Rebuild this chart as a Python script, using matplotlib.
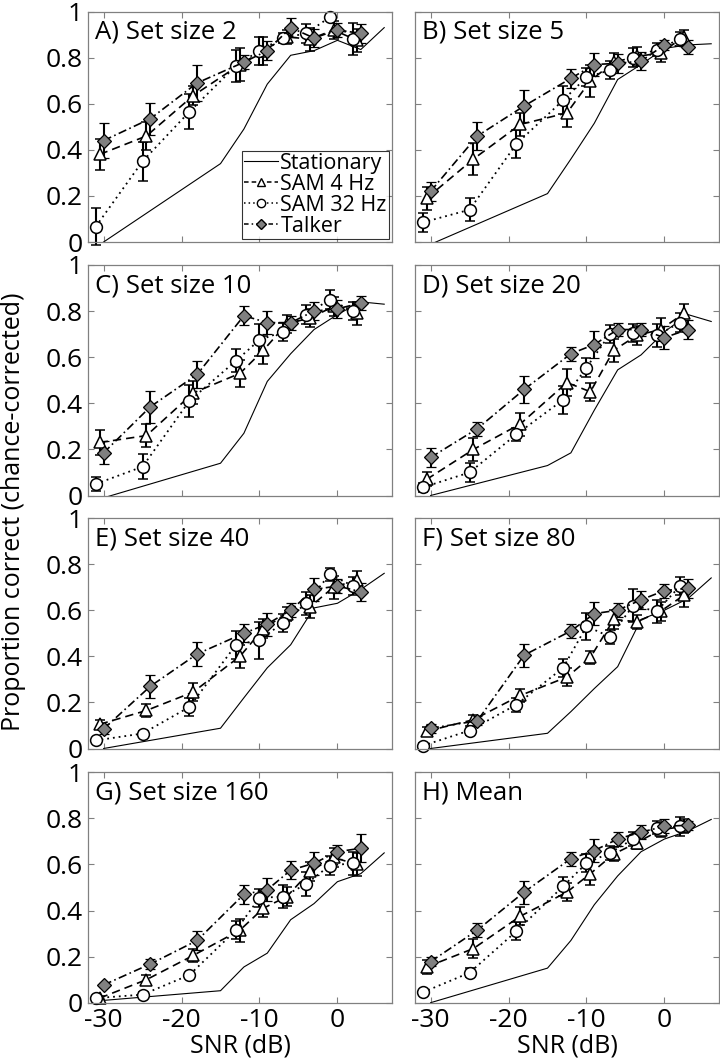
import numpy as np
import matplotlib
matplotlib.use('Agg')
import matplotlib.pyplot as plt
from matplotlib.lines import Line2D

plt.rcParams['font.family'] = ['Open Sans', 'DejaVu Sans']

# data #
titles = ['A) Set size 2', 'B) Set size 5', 'C) Set size 10', 'D) Set size 20',
          'E) Set size 40', 'F) Set size 80', 'G) Set size 160', 'H) Mean']

snr = [-30, -24, -18, -12, -9, -6, -3, 0, 3]          # masked conditions
stat_snr = [-30, -15, -12, -9, -6, -3, 0, 3, 6]       # stationary noise

stationary = [
    [0.0, 0.34, 0.49, 0.685, 0.81, 0.83, 0.875, 0.835, 0.93],
    [-0.01, 0.21, 0.36, 0.515, 0.705, 0.77, 0.84, 0.855, 0.86],
    [-0.01, 0.14, 0.27, 0.495, 0.615, 0.72, 0.785, 0.84, 0.83],
    [0.0, 0.13, 0.185, 0.37, 0.545, 0.61, 0.71, 0.785, 0.755],
    [0.0, 0.088, 0.22, 0.35, 0.45, 0.61, 0.63, 0.69, 0.76],
    [0.0, 0.066, 0.16, 0.26, 0.355, 0.56, 0.60, 0.65, 0.74],
    [0.01, 0.052, 0.155, 0.215, 0.36, 0.43, 0.525, 0.56, 0.65],
    [0.0, 0.15, 0.27, 0.425, 0.55, 0.655, 0.71, 0.745, 0.795],
]

sam4 = [
    [0.38, 0.46, 0.635, 0.77, 0.83, 0.89, 0.88, 0.92, 0.875],
    [0.19, 0.36, 0.51, 0.56, 0.70, 0.78, 0.805, 0.82, 0.89],
    [0.23, 0.26, 0.445, 0.53, 0.63, 0.745, 0.77, 0.82, 0.79],
    [0.07, 0.20, 0.31, 0.49, 0.45, 0.63, 0.695, 0.72, 0.79],
    [0.105, 0.165, 0.245, 0.40, 0.52, 0.585, 0.615, 0.70, 0.73],
    [0.075, 0.125, 0.23, 0.31, 0.395, 0.56, 0.55, 0.595, 0.665],
    [0.02, 0.10, 0.205, 0.315, 0.41, 0.46, 0.57, 0.63, 0.60],
    [0.155, 0.235, 0.375, 0.48, 0.56, 0.645, 0.695, 0.75, 0.765],
]
sam4_err = [
    [0.067, 0.06, 0.04, 0.07, 0.06, 0.03, 0.05, 0.04, 0.05],
    [0.05, 0.07, 0.05, 0.06, 0.07, 0.04, 0.04, 0.04, 0.03],
    [0.055, 0.05, 0.05, 0.06, 0.06, 0.04, 0.04, 0.04, 0.05],
    [0.03, 0.05, 0.05, 0.06, 0.04, 0.05, 0.04, 0.05, 0.04],
    [0.02, 0.03, 0.04, 0.05, 0.04, 0.03, 0.05, 0.05, 0.04],
    [0.02, 0.02, 0.03, 0.04, 0.03, 0.04, 0.03, 0.04, 0.05],
    [0.01, 0.02, 0.03, 0.05, 0.04, 0.04, 0.04, 0.04, 0.05],
    [0.03, 0.04, 0.04, 0.04, 0.05, 0.03, 0.03, 0.03, 0.03],
]

sam32 = [
    [0.067, 0.35, 0.565, 0.765, 0.83, 0.885, 0.905, 0.975, 0.88],
    [0.085, 0.14, 0.425, 0.615, 0.715, 0.745, 0.80, 0.835, 0.88],
    [0.05, 0.125, 0.41, 0.585, 0.675, 0.71, 0.785, 0.85, 0.80],
    [0.035, 0.10, 0.265, 0.415, 0.555, 0.70, 0.705, 0.695, 0.75],
    [0.035, 0.065, 0.18, 0.45, 0.47, 0.545, 0.63, 0.755, 0.705],
    [0.012, 0.078, 0.19, 0.35, 0.53, 0.485, 0.62, 0.595, 0.705],
    [0.02, 0.035, 0.12, 0.315, 0.455, 0.46, 0.515, 0.595, 0.605],
    [0.045, 0.13, 0.31, 0.505, 0.605, 0.65, 0.71, 0.76, 0.765],
]
sam32_err = [
    [0.08, 0.085, 0.075, 0.07, 0.06, 0.02, 0.04, 0.01, 0.07],
    [0.04, 0.05, 0.06, 0.06, 0.04, 0.04, 0.04, 0.03, 0.03],
    [0.03, 0.055, 0.07, 0.05, 0.07, 0.04, 0.04, 0.04, 0.04],
    [0.02, 0.04, 0.03, 0.06, 0.04, 0.04, 0.04, 0.05, 0.04],
    [0.01, 0.01, 0.04, 0.06, 0.08, 0.04, 0.05, 0.03, 0.04],
    [0.01, 0.02, 0.03, 0.04, 0.06, 0.03, 0.07, 0.05, 0.04],
    [0.01, 0.01, 0.01, 0.04, 0.04, 0.05, 0.05, 0.04, 0.05],
    [0.01, 0.02, 0.04, 0.04, 0.04, 0.03, 0.03, 0.03, 0.04],
]

talker = [
    [0.44, 0.535, 0.69, 0.78, 0.83, 0.93, 0.885, 0.92, 0.905],
    [0.22, 0.46, 0.59, 0.71, 0.77, 0.775, 0.785, 0.855, 0.845],
    [0.185, 0.385, 0.525, 0.78, 0.75, 0.75, 0.80, 0.81, 0.835],
    [0.165, 0.29, 0.46, 0.615, 0.655, 0.72, 0.72, 0.685, 0.72],
    [0.085, 0.27, 0.41, 0.50, 0.54, 0.60, 0.69, 0.705, 0.68],
    [0.088, 0.12, 0.405, 0.51, 0.585, 0.60, 0.645, 0.685, 0.695],
    [0.077, 0.168, 0.27, 0.47, 0.49, 0.575, 0.605, 0.655, 0.67],
    [0.178, 0.315, 0.48, 0.625, 0.66, 0.71, 0.74, 0.765, 0.77],
]
talker_err = [
    [0.075, 0.07, 0.08, 0.03, 0.04, 0.04, 0.04, 0.03, 0.04],
    [0.04, 0.06, 0.07, 0.04, 0.05, 0.04, 0.04, 0.02, 0.03],
    [0.05, 0.07, 0.06, 0.04, 0.05, 0.03, 0.04, 0.04, 0.03],
    [0.04, 0.03, 0.06, 0.03, 0.06, 0.03, 0.03, 0.05, 0.04],
    [0.02, 0.05, 0.05, 0.04, 0.05, 0.03, 0.05, 0.03, 0.04],
    [0.02, 0.02, 0.05, 0.03, 0.05, 0.03, 0.04, 0.03, 0.04],
    [0.01, 0.02, 0.04, 0.04, 0.05, 0.04, 0.05, 0.03, 0.06],
    [0.02, 0.03, 0.05, 0.03, 0.05, 0.03, 0.03, 0.03, 0.02],
]

yticks = [0, 0.2, 0.4, 0.6, 0.8, 1]
ytick_labels = ['0', '0.2', '0.4', '0.6', '0.8', '1']
xticks = [-30, -20, -10, 0]
xtick_labels = ['-30', '-20', '-10', '0']

# layout (pixels of a 720x1059 figure) #
W, H = 720, 1059
col_left = [88, 415]
ax_w = 304
row_bottom = [242, 495.5, 748.5, 1002.7]
ax_h = 230.5

fig = plt.figure(figsize=(7.2, 10.59), dpi=100)
snr = np.array(snr, dtype=float)
gray = '0.5'

for i in range(8):
    r, c = i // 2, i % 2
    ax = fig.add_axes([col_left[c] / W, 1 - row_bottom[r] / H, ax_w / W, ax_h / H])

    ax.plot(stat_snr, stationary[i], '-', color='k', lw=0.8)
    ax.errorbar(snr - 0.5, sam4[i], yerr=sam4_err[i], fmt='^', ls=(0, (5, 3)),
                color='k', mfc='w', mec='k', ms=8.5, mew=1.1, lw=1.2,
                elinewidth=1.5, capsize=3.5, capthick=1.5, clip_on=False)
    ax.errorbar(snr - 1.0, sam32[i], yerr=sam32_err[i], fmt='o', ls=(0, (1, 2.2)),
                color='k', mfc='w', mec='k', ms=8.5, mew=1.1, lw=1.3,
                elinewidth=1.5, capsize=3.5, capthick=1.5, clip_on=False)
    ax.errorbar(snr, talker[i], yerr=talker_err[i], fmt='D', ls=(0, (5, 2, 1, 2)),
                color='k', mfc=gray, mec='k', ms=7, mew=0.9, lw=1.2,
                elinewidth=1.5, capsize=3.5, capthick=1.5, clip_on=False)

    ax.set_xlim(-32, 7)
    ax.set_ylim(0, 1)
    ax.set_xticks(xticks)
    ax.set_yticks(yticks)
    ax.tick_params(direction='in', top=True, right=True, length=4,
                   color=gray, width=0.8, labelsize=19, pad=4)
    if c == 0:
        ax.set_yticklabels(ytick_labels)
    else:
        ax.set_yticklabels([])
    if r == 3:
        ax.set_xticklabels(xtick_labels)
        ax.set_xlabel('SNR (dB)', fontsize=18, labelpad=0)
    else:
        ax.set_xticklabels([])
    for s in ax.spines.values():
        s.set_color(gray)
        s.set_linewidth(0.9)

    ax.text(0.022, 0.965, titles[i], transform=ax.transAxes, ha='left', va='top',
            fontsize=18.5)

    if i == 0:
        handles = [
            Line2D([], [], color='k', lw=0.8),
            Line2D([], [], color='k', ls=(0, (3, 2)), marker='^', mfc='w', mec='k', ms=6, lw=1.1),
            Line2D([], [], color='k', ls=(0, (1, 2)), marker='o', mfc='w', mec='k', ms=6, lw=1.1),
            Line2D([], [], color='k', ls=(0, (3, 2, 1, 2)), marker='D', mfc=gray, mec='k', ms=5.5, lw=1.1),
        ]
        leg = ax.legend(handles, ['Stationary', 'SAM 4 Hz', 'SAM 32 Hz', 'Talker'],
                        loc='lower right', bbox_to_anchor=(0.99, 0.013), borderaxespad=0,
                        fontsize=15.5, frameon=True, fancybox=False, handlelength=1.6,
                        handletextpad=0.1, labelspacing=0.0, borderpad=0.1)
        leg.get_frame().set_edgecolor('k')
        leg.get_frame().set_linewidth(0.8)

fig.text(14 / W, 1 - 512 / H, 'Proportion correct (chance-corrected)', rotation=90,
         ha='center', va='center', fontsize=18)

fig.savefig('out.png', dpi=100)
